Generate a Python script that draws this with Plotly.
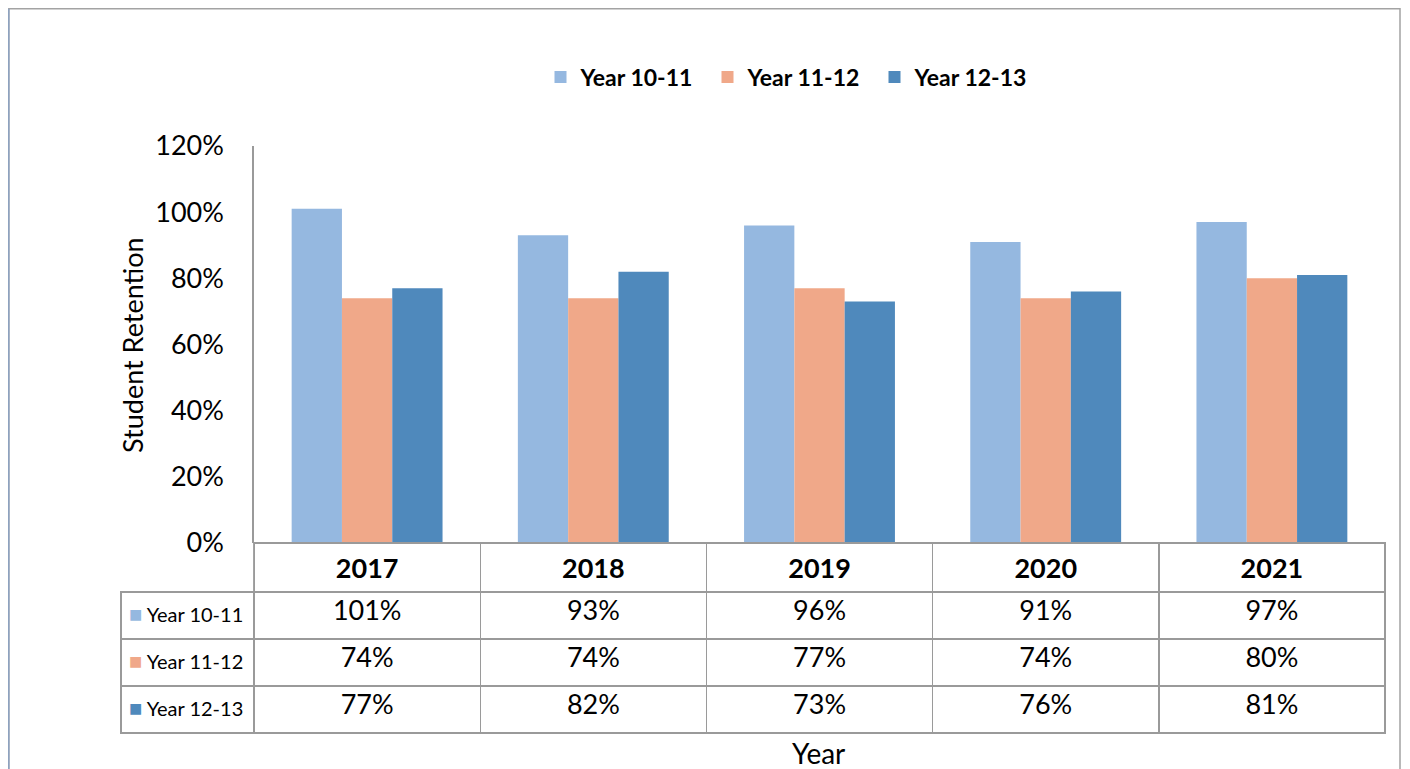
import plotly.graph_objects as go

# ---------------------------------------------------------------------------
# Data
# ---------------------------------------------------------------------------
years = ["2017", "2018", "2019", "2020", "2021"]
series_names = ["Year 10-11", "Year 11-12", "Year 12-13"]
year_10_11 = [1.01, 0.93, 0.96, 0.91, 0.97]
year_11_12 = [0.74, 0.74, 0.77, 0.74, 0.80]
year_12_13 = [0.77, 0.82, 0.73, 0.76, 0.81]

COLORS = ["#95B8E0", "#F0A889", "#4F89BC"]
FONT = "Lato"
GRID_LINE = "#9A9A9A"
W, H = 1410, 769
OFFSET = 8  # page body margin


def px_x(p):
    return (p - OFFSET) / W


def px_y(p):
    return 1 - (p - OFFSET) / H


fig = go.Figure()

for name, values, color in zip(series_names, [year_10_11, year_11_12, year_12_13], COLORS):
    fig.add_trace(
        go.Bar(
            x=years,
            y=values,
            name=name,
            marker=dict(color=color, line=dict(width=0)),
            hovertemplate="%{x}: %{y:.0%}<extra>" + name + "</extra>",
        )
    )

# Data table under the plot, one column per year.
# The trailing <br> stops the table from word-wrapping (which would split the span tag).
label_cells = [
    f"<span style='color:{c};font-size:22px'>■</span> {n}<br>" for n, c in zip(series_names, COLORS)
]
value_columns = [
    [f"{v:.0%}" for v in col] for col in zip(year_10_11, year_11_12, year_12_13)
]

fig.add_trace(
    go.Table(
        domain=dict(x=[px_x(121), px_x(1385)], y=[0.0, px_y(543)]),
        columnwidth=[133, 226, 226, 226, 226, 226],
        header=dict(
            values=[""] + [f"<b>{y}</b>" for y in years],
            height=47,
            align="center",
            fill=dict(color="rgba(0,0,0,0)"),
            line=dict(color=["rgba(0,0,0,0)"] + [GRID_LINE] * 5, width=1.5),
            font=dict(family=FONT, size=27, color="black"),
        ),
        cells=dict(
            values=[label_cells] + value_columns,
            height=47,
            align=["left"] + ["center"] * 5,
            fill=dict(color="white"),
            line=dict(color=GRID_LINE, width=1.5),
            font=dict(family=FONT, size=[20] + [27] * 5, color="black"),
        ),
    )
)

fig.update_layout(
    width=W,
    height=H,
    margin=dict(l=0, r=0, t=0, b=0, autoexpand=False),
    paper_bgcolor="white",
    plot_bgcolor="white",
    font=dict(family=FONT, color="black"),
    barmode="group",
    bargap=0.333,
    bargroupgap=0,
    showlegend=True,
    legend=dict(
        orientation="h",
        x=px_x(791),
        xanchor="center",
        y=px_y(77),
        yanchor="middle",
        font=dict(family=FONT, size=23, weight="bold"),
        entrywidth=122,
        entrywidthmode="pixels",
    ),
    xaxis=dict(
        domain=[px_x(254), px_x(1385)],
        showticklabels=False,
        showline=False,
        showgrid=False,
        ticks="",
        fixedrange=True,
        automargin=False,
    ),
    yaxis=dict(
        domain=[px_y(543), px_y(146)],
        range=[0, 1.2],
        dtick=0.2,
        tickformat=".0%",
        showgrid=False,
        zeroline=False,
        showline=True,
        linecolor=GRID_LINE,
        linewidth=1.5,
        ticks="",
        ticklabelstandoff=23,
        tickfont=dict(family=FONT, size=27, color="black"),
        fixedrange=True,
        automargin=False,
    ),
    annotations=[
        dict(
            text="Student Retention",
            x=px_x(132),
            y=px_y(345),
            xref="paper",
            yref="paper",
            xanchor="center",
            yanchor="middle",
            textangle=-90,
            showarrow=False,
            font=dict(family=FONT, size=27, color="black"),
        ),
        dict(
            text="Year",
            x=px_x(818),
            y=px_y(753),
            xref="paper",
            yref="paper",
            xanchor="center",
            yanchor="middle",
            showarrow=False,
            font=dict(family=FONT, size=28, color="black"),
        ),
    ],
    shapes=[
        dict(
            type="rect",
            xref="paper",
            yref="paper",
            x0=0.8 / W,
            x1=px_x(1400),
            y0=-0.01,
            y1=1 - 0.8 / H,
            line=dict(color="#A3A3A3", width=1.5),
            fillcolor="rgba(0,0,0,0)",
            layer="below",
        ),
        dict(
            type="line",
            xref="paper",
            yref="paper",
            x0=0.8 / W,
            x1=0.8 / W,
            y0=-0.01,
            y1=1 - 0.8 / H,
            line=dict(color="#8DA2C0", width=1.5),
            layer="below",
        ),
    ],
)

fig.write_html("out.html")
